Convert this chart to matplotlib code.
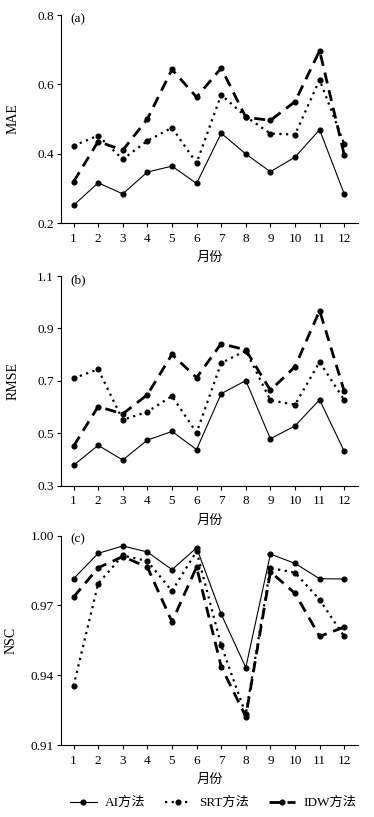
import matplotlib
matplotlib.use("Agg")
import matplotlib.pyplot as plt
from matplotlib.lines import Line2D

plt.rcParams['font.family'] = ['Liberation Serif', 'Noto Sans CJK SC', 'DejaVu Sans']
plt.rcParams['font.size'] = 9

months = [1, 2, 3, 4, 5, 6, 7, 8, 9, 10, 11, 12]

mae_ai = [0.251, 0.316, 0.284, 0.347, 0.364, 0.314, 0.459, 0.399, 0.348, 0.390, 0.469, 0.284]
mae_srt = [0.423, 0.452, 0.384, 0.437, 0.475, 0.373, 0.570, 0.507, 0.458, 0.455, 0.613, 0.428]
mae_idw = [0.319, 0.435, 0.410, 0.500, 0.643, 0.563, 0.647, 0.505, 0.496, 0.550, 0.697, 0.397]

rmse_ai = [0.378, 0.454, 0.398, 0.474, 0.507, 0.438, 0.651, 0.701, 0.479, 0.528, 0.628, 0.431]
rmse_srt = [0.710, 0.744, 0.551, 0.582, 0.642, 0.502, 0.768, 0.815, 0.626, 0.609, 0.772, 0.627]
rmse_idw = [0.451, 0.602, 0.574, 0.647, 0.801, 0.712, 0.842, 0.818, 0.664, 0.754, 0.968, 0.661]

nsc_ai = [0.9815, 0.9924, 0.9956, 0.9930, 0.9854, 0.9948, 0.9663, 0.9433, 0.9921, 0.9881, 0.9815, 0.9814]
nsc_srt = [0.9354, 0.9794, 0.9915, 0.9891, 0.9762, 0.9933, 0.9529, 0.9232, 0.9861, 0.9841, 0.9725, 0.9567]
nsc_idw = [0.9736, 0.9862, 0.9910, 0.9865, 0.9630, 0.9865, 0.9437, 0.9222, 0.9845, 0.9752, 0.9567, 0.9607]

series_names = ['AI方法', 'SRT方法', 'IDW方法']
panel_labels = ['(a)', '(b)', '(c)']
ylabels = ['MAE', 'RMSE', 'NSC']
yticks = [[0.2, 0.4, 0.6, 0.8], [0.3, 0.5, 0.7, 0.9, 1.1], [0.91, 0.94, 0.97, 1.00]]
yticklabels = [['0.2', '0.4', '0.6', '0.8'], ['0.3', '0.5', '0.7', '0.9', '1.1'],
               ['0.91', '0.94', '0.97', '1.00']]
data = [(mae_ai, mae_srt, mae_idw), (rmse_ai, rmse_srt, rmse_idw), (nsc_ai, nsc_srt, nsc_idw)]

fig = plt.figure(figsize=(3.74, 8.17), dpi=100)
W, H = 374, 817
boxes = [(15, 223), (276, 485.7), (535.7, 745)]
left_px, right_px = 61, 358
ylabel_x = [-0.138, -0.138, -0.145]

styles = [dict(linestyle='-', linewidth=0.8),
          dict(linestyle=(0, (1, 2)), linewidth=1.6),
          dict(linestyle=(0, (4, 2.5)), linewidth=2.0)]

for i, (top, bot) in enumerate(boxes):
    ax = fig.add_axes([left_px / W, 1 - bot / H, (right_px - left_px) / W, (bot - top) / H])
    for s, st in zip(data[i], styles):
        ax.plot(months, s, color='black', marker='o', markersize=3.4, **st)
    ax.set_xlim(0.49, 12.56)
    ax.set_ylim(yticks[i][0], yticks[i][-1])
    ax.set_yticks(yticks[i])
    ax.set_yticklabels(yticklabels[i])
    ax.set_xticks(months)
    ax.set_xticklabels([str(m) for m in months])
    for sp in ['top', 'right']:
        ax.spines[sp].set_visible(False)
    ax.spines['left'].set_linewidth(0.8)
    ax.spines['bottom'].set_linewidth(0.8)
    ax.tick_params(direction='out', length=3, width=0.8, labelsize=9.5, pad=2)
    ax.tick_params(axis='x', pad=4)
    ax.set_ylabel(ylabels[i], fontsize=10)
    ax.yaxis.set_label_coords(ylabel_x[i], 0.5)
    ax.set_xlabel('月份', fontsize=9.5, labelpad=5)
    ax.text(0.03, 1.01, panel_labels[i], transform=ax.transAxes, ha='left', va='top', fontsize=9.5)

handles = [Line2D([], [], color='black', marker='o', markersize=3.4, **st) for st in styles]
fig.legend(handles, series_names, loc='center', bbox_to_anchor=(0.57, 1 - 803 / H),
           ncol=3, frameon=False, fontsize=9.5, handlelength=2.0, handletextpad=0.6,
           columnspacing=1.5)

fig.savefig('out.png', dpi=100)
